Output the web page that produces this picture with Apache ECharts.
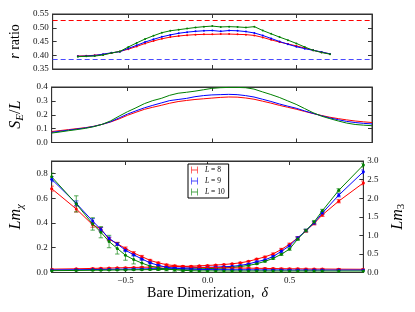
<!DOCTYPE html>
<html><head><meta charset="utf-8">
<script src="https://cdn.jsdelivr.net/npm/echarts@6/dist/echarts.min.js"></script>
<style>html,body{margin:0;padding:0;background:#fff}#c{width:415px;height:312px}</style>
</head><body><div id="c"></div>
<script>
// ---------- data ----------
const legendNames = ['L = 8', 'L = 9', 'L = 10'];
const colors = ['#ff0000', '#0000ff', '#008000'];

// top panel: r ratio
const rX = [-0.8,-0.75,-0.7,-0.65,-0.6,-0.55,-0.5,-0.45,-0.4,-0.35,-0.3,-0.25,-0.2,-0.15,-0.1,-0.05,0,0.05,0.1,0.15,0.2,0.25,0.3,0.35,0.4,0.45,0.5,0.55,0.6,0.65,0.7];
const rRed   = [0.397,0.398,0.400,0.403,0.408,0.414,0.422,0.432,0.443,0.452,0.460,0.466,0.470,0.473,0.475,0.476,0.476,0.477,0.477,0.476,0.475,0.472,0.465,0.456,0.448,0.441,0.434,0.426,0.418,0.411,0.405];
const rBlue  = [0.396,0.397,0.399,0.404,0.409,0.413,0.425,0.436,0.448,0.458,0.467,0.474,0.480,0.484,0.487,0.489,0.490,0.487,0.490,0.489,0.486,0.481,0.472,0.461,0.450,0.440,0.431,0.424,0.418,0.412,0.405];
const rGreen = [0.395,0.396,0.397,0.401,0.408,0.414,0.430,0.445,0.459,0.471,0.482,0.489,0.493,0.497,0.501,0.504,0.506,0.503,0.504,0.503,0.501,0.504,0.490,0.478,0.466,0.455,0.443,0.430,0.418,0.410,0.404];
const rRefLines = [0.53, 0.385];   // red dashed, blue dashed
const rRefColors = ['#ff0000', '#4a4aff'];
const rTicks = [0.35, 0.40, 0.45, 0.50, 0.55];

// middle panel: S_E / L
const sX = [-0.95,-0.9,-0.85,-0.8,-0.75,-0.7,-0.65,-0.6,-0.55,-0.5,-0.45,-0.4,-0.35,-0.3,-0.25,-0.2,-0.15,-0.1,-0.05,0,0.05,0.1,0.15,0.2,0.25,0.3,0.35,0.4,0.45,0.5,0.55,0.6,0.65,0.7,0.75,0.8,0.85,0.9,0.95];
const sRed   = [0.079,0.086,0.093,0.100,0.107,0.117,0.131,0.148,0.170,0.196,0.218,0.239,0.254,0.268,0.283,0.295,0.303,0.310,0.315,0.320,0.325,0.328,0.327,0.321,0.312,0.298,0.284,0.268,0.254,0.240,0.224,0.209,0.195,0.182,0.172,0.163,0.155,0.149,0.144];
const sBlue  = [0.073,0.081,0.089,0.097,0.105,0.116,0.131,0.150,0.177,0.205,0.228,0.250,0.268,0.285,0.302,0.310,0.318,0.330,0.338,0.343,0.345,0.347,0.345,0.338,0.328,0.312,0.296,0.278,0.262,0.247,0.228,0.210,0.193,0.177,0.164,0.152,0.144,0.138,0.134];
const sGreen = [0.068,0.076,0.085,0.093,0.102,0.114,0.131,0.156,0.190,0.222,0.250,0.280,0.302,0.318,0.340,0.355,0.362,0.370,0.380,0.390,0.395,0.397,0.397,0.395,0.385,0.365,0.346,0.325,0.300,0.275,0.245,0.215,0.190,0.172,0.155,0.140,0.130,0.125,0.121];
const sTicks = [0.0, 0.1, 0.2, 0.3, 0.4];

// bottom panel: L m_chi (left) and L m_3 (right)
const bX = [-0.95,-0.8,-0.7,-0.65,-0.6,-0.55,-0.5,-0.45,-0.4,-0.35,-0.3,-0.25,-0.2,-0.15,-0.1,-0.05,0,0.05,0.1,0.15,0.2,0.25,0.3,0.35,0.4,0.45,0.5,0.55,0.6,0.65,0.7,0.8,0.95];
const chiRed   = [0.677,0.513,0.385,0.350,0.270,0.232,0.194,0.158,0.128,0.098,0.078,0.063,0.055,0.049,0.045,0.041,0.040,0.039,0.038,0.037,0.036,0.035,0.034,0.033,0.032,0.031,0.030,0.030,0.029,0.028,0.028,0.027,0.026];
const chiBlue  = [0.753,0.558,0.415,0.348,0.275,0.230,0.180,0.143,0.109,0.078,0.058,0.042,0.035,0.030,0.027,0.025,0.024,0.023,0.023,0.022,0.022,0.022,0.021,0.021,0.021,0.021,0.020,0.020,0.020,0.020,0.020,0.020,0.020];
const chiGreen = [0.772,0.554,0.392,0.325,0.250,0.194,0.139,0.104,0.076,0.052,0.038,0.028,0.022,0.017,0.015,0.013,0.013,0.013,0.012,0.012,0.012,0.012,0.012,0.012,0.012,0.012,0.012,0.012,0.012,0.012,0.012,0.012,0.012];
const chiErrRed   = [0.02,0.025,0.02,0.015,0.012,0.012,0.012,0.01,0.01,0.008,0.006,0.005,0.005,0.005,0.005,0.005,0.005,0.005,0.005,0.005,0.005,0.005,0.005,0.005,0.005,0.005,0.005,0.005,0.005,0.005,0.005,0.005,0.005];
const chiErrBlue  = [0.02,0.02,0.02,0.015,0.012,0.012,0.012,0.01,0.01,0.008,0.006,0.005,0.005,0.005,0.005,0.005,0.005,0.005,0.005,0.005,0.005,0.005,0.005,0.005,0.005,0.005,0.005,0.005,0.005,0.005,0.005,0.005,0.005];
const chiErrGreen = [0.03,0.065,0.05,0.045,0.05,0.045,0.04,0.035,0.03,0.03,0.02,0.015,0.012,0.01,0.01,0.01,0.01,0.01,0.01,0.01,0.01,0.01,0.01,0.01,0.01,0.01,0.01,0.01,0.01,0.01,0.01,0.01,0.01];
const m3Red   = [0.09,0.10,0.11,0.115,0.12,0.125,0.13,0.135,0.14,0.145,0.15,0.155,0.16,0.165,0.17,0.18,0.19,0.20,0.215,0.235,0.26,0.30,0.36,0.42,0.50,0.62,0.76,0.93,1.12,1.32,1.55,1.92,2.41];
const m3Blue  = [0.07,0.075,0.08,0.082,0.085,0.088,0.09,0.093,0.096,0.10,0.105,0.11,0.115,0.12,0.125,0.135,0.14,0.145,0.155,0.165,0.19,0.23,0.29,0.34,0.43,0.57,0.72,0.93,1.13,1.33,1.60,2.08,2.71];
const m3Green = [0.05,0.055,0.06,0.062,0.065,0.068,0.07,0.072,0.075,0.078,0.08,0.083,0.086,0.09,0.095,0.10,0.105,0.11,0.12,0.135,0.16,0.19,0.235,0.30,0.38,0.49,0.63,0.90,1.13,1.36,1.66,2.21,2.89];
const m3Err   = [0.01,0.01,0.01,0.01,0.01,0.01,0.01,0.01,0.01,0.01,0.01,0.01,0.01,0.01,0.01,0.01,0.01,0.01,0.01,0.01,0.015,0.015,0.02,0.02,0.025,0.03,0.03,0.035,0.035,0.04,0.04,0.045,0.05];
const chiTicks = [0.0, 0.2, 0.4, 0.6, 0.8];
const m3Ticks = [0.0, 0.5, 1.0, 1.5, 2.0, 2.5, 3.0];
const xTicks = [-0.5, 0.0, 0.5];
const xRange = [-0.95, 0.95];

// ---------- chart ----------
const FONT = 'Liberation Serif';
const FRAME = '#333';
const zip = (xs, ys) => xs.map((x, i) => [x, ys[i]]);
const errData = (xs, ys, es) => xs.map((x, i) => [x, ys[i] - es[i], ys[i] + es[i]]);
const fmt1 = v => (v < 0 ? '\u2212' : '') + Math.abs(v).toFixed(1);

function xAx(grid, pos, labels, extra) {
  return Object.assign({
    type: 'value', gridIndex: grid, position: pos, min: xRange[0], max: xRange[1],
    axisLine: { show: true, onZero: false, lineStyle: { color: FRAME, width: 1 } },
    axisTick: { show: true, inside: true, length: 4, customValues: xTicks, lineStyle: { color: FRAME } },
    axisLabel: { show: labels, customValues: xTicks, formatter: fmt1, fontFamily: FONT, fontSize: 9, color: '#111', margin: 4 },
    splitLine: { show: false }
  }, extra || {});
}
function yAx(grid, pos, min, max, ticks, labels, dec, extra) {
  return Object.assign({
    type: 'value', gridIndex: grid, position: pos, min: min, max: max,
    axisLine: { show: true, onZero: false, lineStyle: { color: FRAME, width: 1 } },
    axisTick: { show: true, inside: true, length: 4, customValues: ticks, lineStyle: { color: FRAME } },
    axisLabel: { show: labels, customValues: ticks, formatter: v => v.toFixed(dec), fontFamily: FONT, fontSize: 9, color: '#111', margin: 4 },
    splitLine: { show: false }
  }, extra || {});
}
const nameRich = (size) => ({
  i: { fontFamily: FONT, fontSize: size, fontStyle: 'italic', color: '#000' },
  n: { fontFamily: FONT, fontSize: size, color: '#000' },
  s: { fontFamily: FONT, fontSize: Math.round(size * 0.68), fontStyle: 'italic', color: '#000', padding: [8, 0, 0, 0] },
  u: { fontFamily: FONT, fontSize: Math.round(size * 0.68), color: '#000', padding: [8, 0, 0, 0] }
});

function lineSeries(name, data, xi, yi, color, sym, extra) {
  return Object.assign({
    type: 'line', name: name, data: data, xAxisIndex: xi, yAxisIndex: yi,
    symbol: sym > 0 ? 'circle' : 'none', symbolSize: sym, showSymbol: sym > 0,
    itemStyle: { color: color }, lineStyle: { color: color, width: 1 },
    clip: true, silent: true
  }, extra || {});
}
// horizontal dashed reference lines drawn through the axis scale
function refSeries(v, color) {
  return {
    type: 'custom', data: [[0, v]], xAxisIndex: 0, yAxisIndex: 0,
    encode: { x: 0, y: 1 }, silent: true, clip: false, z: 3,
    itemStyle: { color: color },
    renderItem: function (params, api) {
      const val = api.value(1);
      const a = api.coord([xRange[0], val]), b = api.coord([xRange[1], val]);
      const y = Math.round(a[1]) + 0.5;
      return { type: 'line', shape: { x1: a[0], y1: y, x2: b[0], y2: y },
        style: { stroke: color, lineWidth: 1, lineDash: [5, 3], fill: null } };
    }
  };
}
function errSeries(name, data, xi, yi, color) {
  return {
    type: 'custom', name: name, data: data, xAxisIndex: xi, yAxisIndex: yi,
    encode: { x: 0, y: [1, 2] }, silent: true, clip: true,
    itemStyle: { color: color },
    renderItem: function (params, api) {
      const x = api.value(0);
      const lo = api.coord([x, api.value(1)]);
      const hi = api.coord([x, api.value(2)]);
      const hw = 2.2;
      const st = { stroke: color, lineWidth: 1, opacity: 0.65 };
      return { type: 'group', children: [
        { type: 'line', shape: { x1: lo[0], y1: lo[1], x2: hi[0], y2: hi[1] }, style: st },
        { type: 'line', shape: { x1: lo[0] - hw, y1: lo[1], x2: lo[0] + hw, y2: lo[1] }, style: st },
        { type: 'line', shape: { x1: hi[0] - hw, y1: hi[1], x2: hi[0] + hw, y2: hi[1] }, style: st }
      ] };
    }
  };
}

const chart = echarts.init(document.getElementById('c'), null, { renderer: 'canvas' });
const option = {
  animation: false,
  backgroundColor: '#fff',
  grid: [
    { left: 47, right: 43, top: 14, height: 55, show: true, borderColor: FRAME, borderWidth: 1, backgroundColor: 'transparent' },
    { left: 47, right: 43, top: 87, height: 55.5, show: true, borderColor: FRAME, borderWidth: 1, backgroundColor: 'transparent' },
    { left: 47, right: 43, top: 161, height: 111.5, show: true, borderColor: FRAME, borderWidth: 1, backgroundColor: 'transparent' }
  ],
  xAxis: [
    xAx(0, 'bottom', false), xAx(0, 'top', false),
    xAx(1, 'bottom', false), xAx(1, 'top', false),
    xAx(2, 'bottom', true, {
      name: 'Bare Dimerization,  {i|\u03b4}', nameLocation: 'middle', nameGap: 13,
      nameTextStyle: { fontFamily: FONT, fontSize: 14, color: '#000', rich: nameRich(14) }
    }),
    xAx(2, 'top', false)
  ],
  yAxis: [
    yAx(0, 'left', 0.35, 0.55, rTicks, true, 2, {
      name: '{i|r} ratio', nameLocation: 'middle', nameRotate: 90, nameGap: 25,
      nameTextStyle: { fontFamily: FONT, fontSize: 14, color: '#000', rich: nameRich(14) }
    }),
    yAx(0, 'right', 0.35, 0.55, rTicks, false, 2),
    yAx(1, 'left', 0, 0.4, sTicks, true, 1, {
      name: '{i|S}{s|E}{n|/}{i|L}', nameLocation: 'middle', nameRotate: 90, nameGap: 21,
      nameTextStyle: { fontFamily: FONT, fontSize: 16, color: '#000', rich: nameRich(16) }
    }),
    yAx(1, 'right', 0, 0.4, sTicks, false, 1),
    yAx(2, 'left', 0, 0.9, chiTicks, true, 1, {
      name: '{i|Lm}{s|\u03c7}', nameLocation: 'middle', nameRotate: 90, nameGap: 21,
      nameTextStyle: { fontFamily: FONT, fontSize: 16, color: '#000', rich: nameRich(16) }
    }),
    yAx(2, 'right', 0, 3.0, m3Ticks, true, 1, {
      name: '{i|Lm}{u|3}', nameLocation: 'middle', nameRotate: 90, nameGap: 20,
      nameTextStyle: { fontFamily: FONT, fontSize: 16, color: '#000', rich: nameRich(16) }
    })
  ],
  legend: {
    data: legendNames.map((n, i) => ({
      name: n,
      icon: 'path://M0,0h1.2v10h-1.2zM8.8,0h1.2v10h-1.2zM0,4.4h10v1.2h-10z',
      itemStyle: { color: colors[i], opacity: 0.7, borderWidth: 0 },
      lineStyle: { color: colors[i] }
    })),
    left: 188, top: 164, orient: 'vertical',
    itemWidth: 9, itemHeight: 7, itemGap: 3, padding: [2, 4, 2, 3],
    borderColor: '#000', borderWidth: 1, backgroundColor: '#fff', borderRadius: 0,
    formatter: n => '{i|L} = ' + n.split('= ')[1],
    textStyle: { fontFamily: FONT, fontSize: 7.5, color: '#000', padding: [0, 0, 0, 1],
      rich: { i: { fontFamily: FONT, fontSize: 7.5, fontStyle: 'italic', color: '#000' } } },
    selectedMode: false
  },
  series: [
    refSeries(rRefLines[0], rRefColors[0]),
    refSeries(rRefLines[1], rRefColors[1]),
    lineSeries(legendNames[0], zip(rX, rRed), 0, 0, colors[0], 2),
    lineSeries(legendNames[1], zip(rX, rBlue), 0, 0, colors[1], 2),
    lineSeries(legendNames[2], zip(rX, rGreen), 0, 0, colors[2], 2),
    lineSeries(legendNames[0], zip(sX, sRed), 2, 2, colors[0], 0),
    lineSeries(legendNames[1], zip(sX, sBlue), 2, 2, colors[1], 0),
    lineSeries(legendNames[2], zip(sX, sGreen), 2, 2, colors[2], 0),
    lineSeries(legendNames[0], zip(bX, m3Red), 4, 5, colors[0], 3),
    lineSeries(legendNames[1], zip(bX, m3Blue), 4, 5, colors[1], 3),
    lineSeries(legendNames[2], zip(bX, m3Green), 4, 5, colors[2], 3),
    errSeries(legendNames[0], errData(bX, m3Red, m3Err), 4, 5, colors[0]),
    errSeries(legendNames[1], errData(bX, m3Blue, m3Err), 4, 5, colors[1]),
    errSeries(legendNames[2], errData(bX, m3Green, m3Err), 4, 5, colors[2]),
    lineSeries(legendNames[0], zip(bX, chiRed), 4, 4, colors[0], 3),
    lineSeries(legendNames[1], zip(bX, chiBlue), 4, 4, colors[1], 3),
    lineSeries(legendNames[2], zip(bX, chiGreen), 4, 4, colors[2], 3),
    errSeries(legendNames[0], errData(bX, chiRed, chiErrRed), 4, 4, colors[0]),
    errSeries(legendNames[1], errData(bX, chiBlue, chiErrBlue), 4, 4, colors[1]),
    errSeries(legendNames[2], errData(bX, chiGreen, chiErrGreen), 4, 4, colors[2])
  ]
};
chart.setOption(option);
</script>
</body></html>
